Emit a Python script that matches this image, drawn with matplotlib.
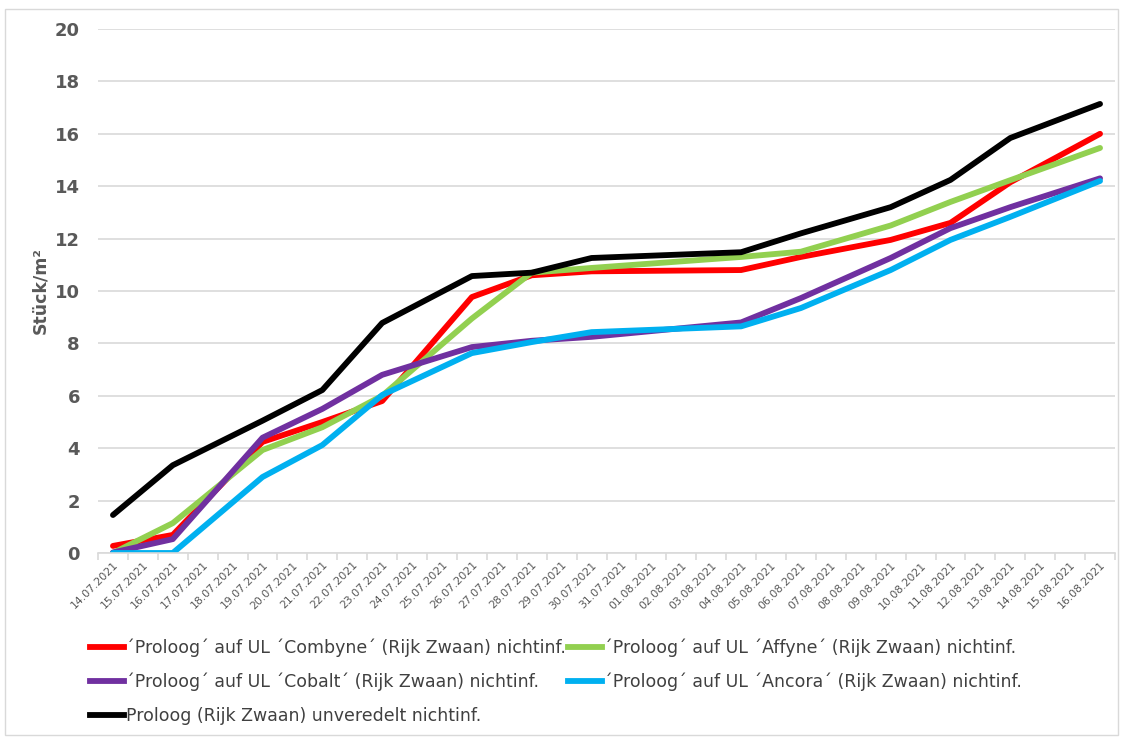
import matplotlib
matplotlib.use("Agg")
import matplotlib.pyplot as plt
from matplotlib.lines import Line2D
from matplotlib.patches import Rectangle
import numpy as np

# all category dates on the axis
dates = ["14.07.2021", "15.07.2021", "16.07.2021", "17.07.2021", "18.07.2021", "19.07.2021",
         "20.07.2021", "21.07.2021", "22.07.2021", "23.07.2021", "24.07.2021", "25.07.2021",
         "26.07.2021", "27.07.2021", "28.07.2021", "29.07.2021", "30.07.2021", "31.07.2021",
         "01.08.2021", "02.08.2021", "03.08.2021", "04.08.2021", "05.08.2021", "06.08.2021",
         "07.08.2021", "08.08.2021", "09.08.2021", "10.08.2021", "11.08.2021", "12.08.2021",
         "13.08.2021", "14.08.2021", "15.08.2021", "16.08.2021"]

# measurement dates
meas_dates = ["14.07.2021", "16.07.2021", "19.07.2021", "21.07.2021", "23.07.2021",
              "26.07.2021", "28.07.2021", "30.07.2021", "04.08.2021", "06.08.2021",
              "09.08.2021", "11.08.2021", "13.08.2021", "16.08.2021"]

combyne = [0.27, 0.69, 4.24, 5.0, 5.8, 9.77, 10.6, 10.75, 10.8, 11.3, 11.95, 12.6, 14.15, 16.0]
affyne = [0.0, 1.14, 3.93, 4.8, 6.0, 8.95, 10.7, 10.88, 11.3, 11.5, 12.5, 13.4, 14.23, 15.46]
cobalt = [0.02, 0.53, 4.4, 5.5, 6.8, 7.86, 8.1, 8.25, 8.8, 9.73, 11.26, 12.4, 13.2, 14.3]
ancora = [0.0, 0.0, 2.9, 4.12, 6.03, 7.63, 8.05, 8.43, 8.65, 9.35, 10.8, 11.95, 12.83, 14.2]
unveredelt = [1.45, 3.35, 5.05, 6.22, 8.78, 10.57, 10.7, 11.26, 11.48, 12.2, 13.2, 14.24, 15.84, 17.14]

labels = ["´Proloog´ auf UL ´Combyne´ (Rijk Zwaan) nichtinf.",
          "´Proloog´ auf UL ´Affyne´ (Rijk Zwaan) nichtinf.",
          "´Proloog´ auf UL ´Cobalt´ (Rijk Zwaan) nichtinf.",
          "´Proloog´ auf UL ´Ancora´ (Rijk Zwaan) nichtinf.",
          "Proloog (Rijk Zwaan) unveredelt nichtinf."]
colors = ["#FF0000", "#92D050", "#7030A0", "#00B0F0", "#000000"]
series = [combyne, affyne, cobalt, ancora, unveredelt]

W, H = 1123, 739
fig = plt.figure(figsize=(W / 100, H / 100), dpi=100)
fig.patches.append(Rectangle((5 / W, 4 / H), (W - 10) / W, (H - 13) / H, transform=fig.transFigure,
                             fill=False, edgecolor="#D9D9D9", linewidth=1))

left, right, top, bottom = 98, 1115, 29, 553
ax = fig.add_axes([left / W, 1 - bottom / H, (right - left) / W, (bottom - top) / H])

xidx = [dates.index(d) for d in meas_dates]
for vals, col in zip(series, colors):
    ax.plot(xidx, vals, color=col, linewidth=4.2, solid_capstyle="round", solid_joinstyle="round")

ax.set_xlim(-0.5, len(dates) - 0.5)
ax.set_ylim(0, 20)
ax.set_yticks(np.arange(0, 21, 2))
ax.yaxis.grid(True, color="#D9D9D9", linewidth=1.2)
ax.set_axisbelow(True)
for s in ["top", "right", "left"]:
    ax.spines[s].set_visible(False)
ax.spines["bottom"].set_color("#D9D9D9")
ax.spines["bottom"].set_linewidth(1.2)

ax.set_xticks(range(len(dates)))
ax.set_xticklabels(dates, rotation=45, ha="right", rotation_mode="anchor",
                   fontsize=7.8, color="#595959")
ax.tick_params(axis="x", which="major", length=0, pad=5)
ax.set_xticks(np.arange(-0.5, len(dates), 1), minor=True)
ax.tick_params(axis="x", which="minor", length=5, color="#D9D9D9", width=1.2)
ax.tick_params(axis="y", length=0, pad=13, labelsize=13, labelcolor="#595959")
for t in ax.get_yticklabels():
    t.set_fontweight("bold")
ax.set_ylabel("Stück/m²", fontsize=12.5, fontweight="bold", color="#595959", labelpad=4)

handles = [Line2D([], [], color=c, linewidth=4.2) for c in colors]
order = [0, 2, 4, 1, 3]
leg = fig.legend([handles[i] for i in order], [labels[i] for i in order],
                 ncol=2, loc="upper left", bbox_to_anchor=(74 / W, 1 - 623 / H),
                 frameon=False, handlelength=2.0, handletextpad=0.1,
                 columnspacing=0.1, labelspacing=0.9,
                 prop={"family": "DejaVu Sans", "size": 12.5})
for t in leg.get_texts():
    t.set_color("#404040")

fig.savefig("out.png", dpi=100)
